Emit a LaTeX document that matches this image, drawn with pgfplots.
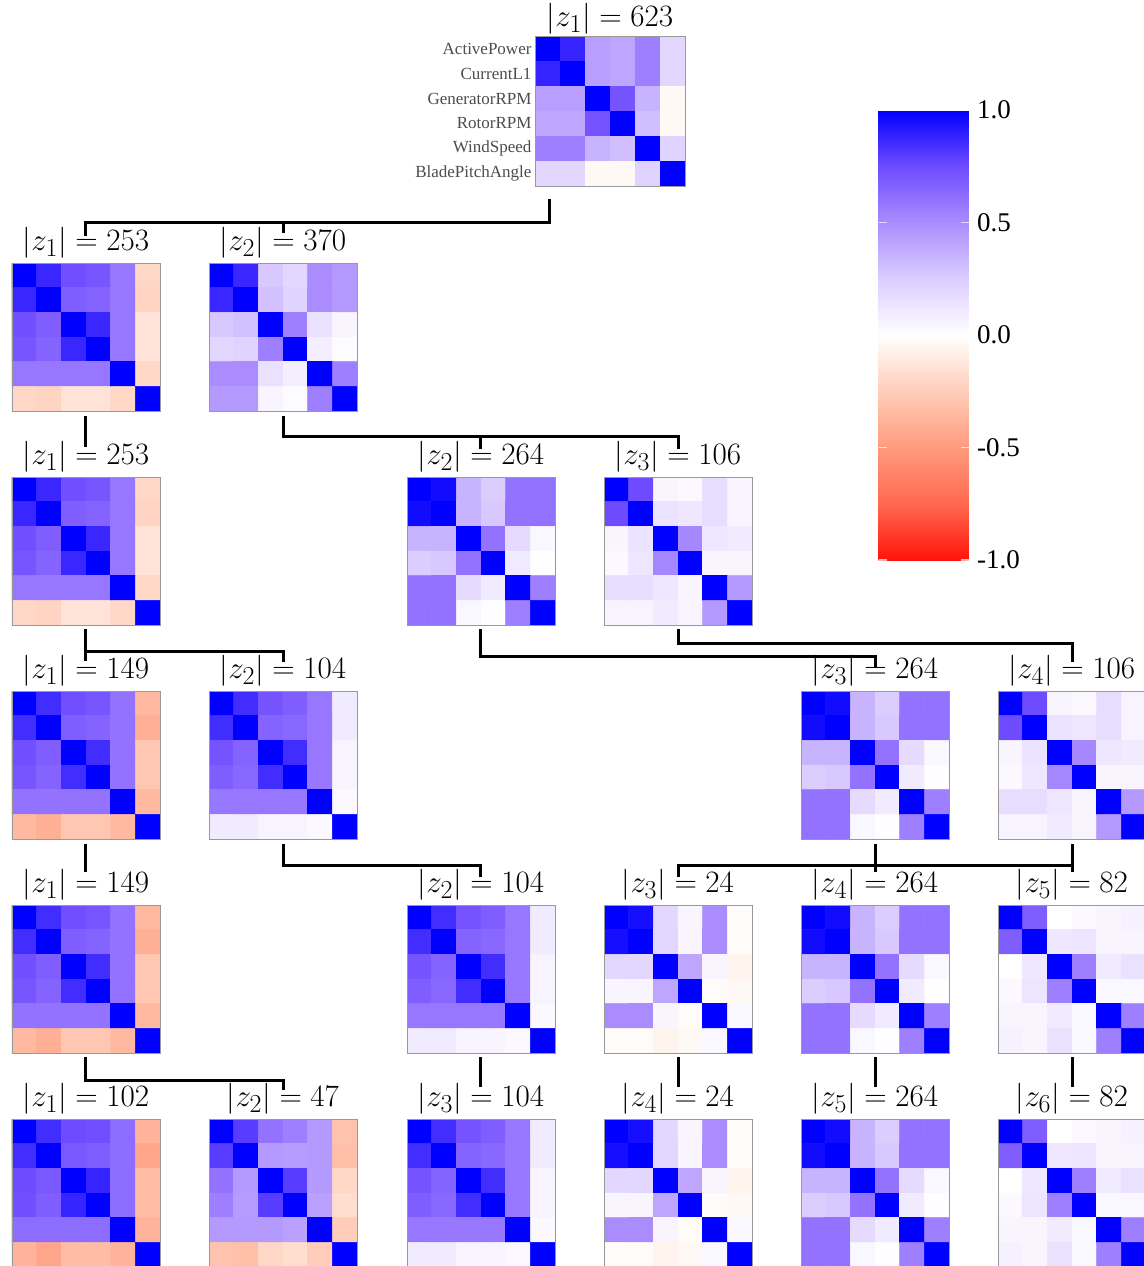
\documentclass[border=0pt]{standalone}
\usepackage{graphicx}
\usepackage{pgfplots}
\pgfplotsset{compat=1.18}
\usepackage{pgfplotstable}
\usepackage{fontspec}
\setmainfont{Liberation Serif}

% ---------- data: x = column, y = row, c = correlation ----------
\pgfplotstableread[row sep=\\]{
x y c\\
0 0 1\\ 1 0 .88\\ 2 0 .43\\ 3 0 .40\\ 4 0 .55\\ 5 0 .20\\
0 1 .88\\ 1 1 1\\ 2 1 .43\\ 3 1 .40\\ 4 1 .55\\ 5 1 .20\\
0 2 .43\\ 1 2 .43\\ 2 2 1\\ 3 2 .72\\ 4 2 .35\\ 5 2 -.03\\
0 3 .40\\ 1 3 .40\\ 2 3 .72\\ 3 3 1\\ 4 3 .31\\ 5 3 -.03\\
0 4 .55\\ 1 4 .55\\ 2 4 .35\\ 3 4 .31\\ 4 4 1\\ 5 4 .22\\
0 5 .20\\ 1 5 .20\\ 2 5 -.03\\ 3 5 -.03\\ 4 5 .22\\ 5 5 1\\
}\matT
\pgfplotstableread[row sep=\\]{
x y c\\
0 0 1\\ 1 0 .87\\ 2 0 .74\\ 3 0 .71\\ 4 0 .58\\ 5 0 -.20\\
0 1 .87\\ 1 1 1\\ 2 1 .68\\ 3 1 .66\\ 4 1 .58\\ 5 1 -.22\\
0 2 .74\\ 1 2 .68\\ 2 2 1\\ 3 2 .87\\ 4 2 .58\\ 5 2 -.14\\
0 3 .71\\ 1 3 .66\\ 2 3 .87\\ 3 3 1\\ 4 3 .58\\ 5 3 -.14\\
0 4 .58\\ 1 4 .58\\ 2 4 .58\\ 3 4 .58\\ 4 4 1\\ 5 4 -.20\\
0 5 -.20\\ 1 5 -.22\\ 2 5 -.14\\ 3 5 -.14\\ 4 5 -.20\\ 5 5 1\\
}\matA
\pgfplotstableread[row sep=\\]{
x y c\\
0 0 1\\ 1 0 .87\\ 2 0 .27\\ 3 0 .20\\ 4 0 .50\\ 5 0 .45\\
0 1 .87\\ 1 1 1\\ 2 1 .30\\ 3 1 .22\\ 4 1 .50\\ 5 1 .45\\
0 2 .27\\ 1 2 .30\\ 2 2 1\\ 3 2 .55\\ 4 2 .15\\ 5 2 .05\\
0 3 .20\\ 1 3 .22\\ 2 3 .55\\ 3 3 1\\ 4 3 .08\\ 5 3 .02\\
0 4 .50\\ 1 4 .50\\ 2 4 .15\\ 3 4 .08\\ 4 4 1\\ 5 4 .55\\
0 5 .45\\ 1 5 .45\\ 2 5 .05\\ 3 5 .02\\ 4 5 .55\\ 5 5 1\\
}\matB
\pgfplotstableread[row sep=\\]{
x y c\\
0 0 1\\ 1 0 .96\\ 2 0 .35\\ 3 0 .25\\ 4 0 .60\\ 5 0 .60\\
0 1 .96\\ 1 1 1\\ 2 1 .35\\ 3 1 .27\\ 4 1 .60\\ 5 1 .60\\
0 2 .35\\ 1 2 .35\\ 2 2 1\\ 3 2 .60\\ 4 2 .18\\ 5 2 .04\\
0 3 .25\\ 1 3 .27\\ 2 3 .60\\ 3 3 1\\ 4 3 .10\\ 5 3 .01\\
0 4 .60\\ 1 4 .60\\ 2 4 .18\\ 3 4 .10\\ 4 4 1\\ 5 4 .55\\
0 5 .60\\ 1 5 .60\\ 2 5 .04\\ 3 5 .01\\ 4 5 .55\\ 5 5 1\\
}\matC
\pgfplotstableread[row sep=\\]{
x y c\\
0 0 1\\ 1 0 .75\\ 2 0 .05\\ 3 0 .03\\ 4 0 .17\\ 5 0 .06\\
0 1 .75\\ 1 1 1\\ 2 1 .14\\ 3 1 .12\\ 4 1 .17\\ 5 1 .06\\
0 2 .05\\ 1 2 .14\\ 2 2 1\\ 3 2 .52\\ 4 2 .12\\ 5 2 .10\\
0 3 .03\\ 1 3 .12\\ 2 3 .52\\ 3 3 1\\ 4 3 .05\\ 5 3 .05\\
0 4 .17\\ 1 4 .17\\ 2 4 .12\\ 3 4 .05\\ 4 4 1\\ 5 4 .45\\
0 5 .06\\ 1 5 .06\\ 2 5 .10\\ 3 5 .05\\ 4 5 .45\\ 5 5 1\\
}\matD
\pgfplotstableread[row sep=\\]{
x y c\\
0 0 1\\ 1 0 .85\\ 2 0 .74\\ 3 0 .71\\ 4 0 .60\\ 5 0 -.35\\
0 1 .85\\ 1 1 1\\ 2 1 .68\\ 3 1 .66\\ 4 1 .60\\ 5 1 -.40\\
0 2 .74\\ 1 2 .68\\ 2 2 1\\ 3 2 .85\\ 4 2 .60\\ 5 2 -.28\\
0 3 .71\\ 1 3 .66\\ 2 3 .85\\ 3 3 1\\ 4 3 .60\\ 5 3 -.28\\
0 4 .60\\ 1 4 .60\\ 2 4 .60\\ 3 4 .60\\ 4 4 1\\ 5 4 -.35\\
0 5 -.35\\ 1 5 -.40\\ 2 5 -.28\\ 3 5 -.28\\ 4 5 -.35\\ 5 5 1\\
}\matE
\pgfplotstableread[row sep=\\]{
x y c\\
0 0 1\\ 1 0 .85\\ 2 0 .72\\ 3 0 .68\\ 4 0 .58\\ 5 0 .10\\
0 1 .85\\ 1 1 1\\ 2 1 .66\\ 3 1 .64\\ 4 1 .58\\ 5 1 .10\\
0 2 .72\\ 1 2 .66\\ 2 2 1\\ 3 2 .85\\ 4 2 .58\\ 5 2 .06\\
0 3 .68\\ 1 3 .64\\ 2 3 .85\\ 3 3 1\\ 4 3 .58\\ 5 3 .06\\
0 4 .58\\ 1 4 .58\\ 2 4 .58\\ 3 4 .58\\ 4 4 1\\ 5 4 .03\\
0 5 .10\\ 1 5 .10\\ 2 5 .06\\ 3 5 .06\\ 4 5 .03\\ 5 5 1\\
}\matF
\pgfplotstableread[row sep=\\]{
x y c\\
0 0 1\\ 1 0 .95\\ 2 0 .20\\ 3 0 .05\\ 4 0 .50\\ 5 0 -.02\\
0 1 .95\\ 1 1 1\\ 2 1 .20\\ 3 1 .05\\ 4 1 .50\\ 5 1 -.02\\
0 2 .20\\ 1 2 .20\\ 2 2 1\\ 3 2 .40\\ 4 2 .05\\ 5 2 -.06\\
0 3 .05\\ 1 3 .05\\ 2 3 .40\\ 3 3 1\\ 4 3 -.02\\ 5 3 -.03\\
0 4 .50\\ 1 4 .50\\ 2 4 .05\\ 3 4 -.02\\ 4 4 1\\ 5 4 .04\\
0 5 -.02\\ 1 5 -.02\\ 2 5 -.06\\ 3 5 -.03\\ 4 5 .04\\ 5 5 1\\
}\matG
\pgfplotstableread[row sep=\\]{
x y c\\
0 0 1\\ 1 0 .68\\ 2 0 .00\\ 3 0 .03\\ 4 0 .05\\ 5 0 .07\\
0 1 .68\\ 1 1 1\\ 2 1 .12\\ 3 1 .13\\ 4 1 .05\\ 5 1 .05\\
0 2 .00\\ 1 2 .12\\ 2 2 1\\ 3 2 .55\\ 4 2 .10\\ 5 2 .15\\
0 3 .03\\ 1 3 .13\\ 2 3 .55\\ 3 3 1\\ 4 3 .04\\ 5 3 .04\\
0 4 .05\\ 1 4 .05\\ 2 4 .10\\ 3 4 .04\\ 4 4 1\\ 5 4 .55\\
0 5 .07\\ 1 5 .05\\ 2 5 .15\\ 3 5 .04\\ 4 5 .55\\ 5 5 1\\
}\matH
\pgfplotstableread[row sep=\\]{
x y c\\
0 0 1\\ 1 0 .85\\ 2 0 .75\\ 3 0 .74\\ 4 0 .62\\ 5 0 -.38\\
0 1 .85\\ 1 1 1\\ 2 1 .70\\ 3 1 .68\\ 4 1 .62\\ 5 1 -.45\\
0 2 .75\\ 1 2 .70\\ 2 2 1\\ 3 2 .88\\ 4 2 .62\\ 5 2 -.33\\
0 3 .74\\ 1 3 .68\\ 2 3 .88\\ 3 3 1\\ 4 3 .62\\ 5 3 -.33\\
0 4 .62\\ 1 4 .62\\ 2 4 .62\\ 3 4 .62\\ 4 4 1\\ 5 4 -.38\\
0 5 -.38\\ 1 5 -.45\\ 2 5 -.33\\ 3 5 -.33\\ 4 5 -.38\\ 5 5 1\\
}\matI
\pgfplotstableread[row sep=\\]{
x y c\\
0 0 1\\ 1 0 .80\\ 2 0 .60\\ 3 0 .55\\ 4 0 .45\\ 5 0 -.30\\
0 1 .80\\ 1 1 1\\ 2 1 .45\\ 3 1 .44\\ 4 1 .45\\ 5 1 -.32\\
0 2 .60\\ 1 2 .45\\ 2 2 1\\ 3 2 .80\\ 4 2 .45\\ 5 2 -.20\\
0 3 .55\\ 1 3 .44\\ 2 3 .80\\ 3 3 1\\ 4 3 .42\\ 5 3 -.17\\
0 4 .45\\ 1 4 .45\\ 2 4 .45\\ 3 4 .42\\ 4 4 1\\ 5 4 -.25\\
0 5 -.30\\ 1 5 -.32\\ 2 5 -.20\\ 3 5 -.17\\ 4 5 -.25\\ 5 5 1\\
}\matJ

\newcommand{\ztitle}[2]{\scalebox{1.25}{\fontsize{24.88}{30}\selectfont$|z_{#1}| = #2$}}
\pgfplotsset{
  colormap={rwb}{rgb255=(255,20,10) rgb255=(255,105,80) rgb255=(255,155,125)
    rgb255=(255,205,185) rgb255=(255,255,255) rgb255=(220,205,255)
    rgb255=(170,140,255) rgb255=(110,75,255) rgb255=(0,0,255)},
  cmatrix/.style={scale only axis, width=148pt, height=148pt, anchor=north west,
    xmin=-0.5, xmax=5.5, ymin=-0.5, ymax=5.5, y dir=reverse,
    xtick=\empty, ytick=\empty, axis on top,
    axis line style={draw=black!40, line width=0.8pt},
    colormap name=rwb, point meta min=-1, point meta max=1,
    title style={at={(0.5,1)}, anchor=base, yshift=7pt, inner sep=0pt}},
}
\newcommand{\cmat}[5]{%
\begin{axis}[cmatrix, at={(#1pt,-#2pt)}, title={\ztitle{#3}{#4}}]
\addplot[matrix plot, mesh/cols=6, point meta=explicit] table[x=x, y=y, meta=c] {#5};
\end{axis}}

\begin{document}
\begin{tikzpicture}
\path[use as bounding box] (0pt,0pt) rectangle (1143pt,-1266pt);

% top matrix with labels
\begin{axis}[cmatrix, width=150pt, height=150pt, at={(535pt,-36pt)},
  title={\ztitle{1}{623}}, title style={yshift=-3pt},
  ytick={0,...,5},
  yticklabels={ActivePower,CurrentL1,GeneratorRPM,RotorRPM,WindSpeed,BladePitchAngle},
  major tick length=0pt,
  yticklabel style={font=\fontsize{17}{20}\selectfont, text=black!70}]
\addplot[matrix plot, mesh/cols=6, point meta=explicit] table[x=x, y=y, meta=c] {\matT};
\end{axis}

% row 1
\cmat{12}{263}{1}{253}{\matA}
\cmat{209}{263}{2}{370}{\matB}
% row 2
\cmat{12}{477}{1}{253}{\matA}
\cmat{407}{477}{2}{264}{\matC}
\cmat{604}{477}{3}{106}{\matD}
% row 3
\cmat{12}{691}{1}{149}{\matE}
\cmat{209}{691}{2}{104}{\matF}
\cmat{801}{691}{3}{264}{\matC}
\cmat{998}{691}{4}{106}{\matD}
% row 4
\cmat{12}{905}{1}{149}{\matE}
\cmat{407}{905}{2}{104}{\matF}
\cmat{604}{905}{3}{24}{\matG}
\cmat{801}{905}{4}{264}{\matC}
\cmat{998}{905}{5}{82}{\matH}
% row 5
\cmat{12}{1119}{1}{102}{\matI}
\cmat{209}{1119}{2}{47}{\matJ}
\cmat{407}{1119}{3}{104}{\matF}
\cmat{604}{1119}{4}{24}{\matG}
\cmat{801}{1119}{5}{264}{\matC}
\cmat{998}{1119}{6}{82}{\matH}

% colour bar
\begin{axis}[hide axis, scale only axis, width=10pt, height=450pt,
  at={(860pt,-110pt)}, anchor=north west, xmin=0, xmax=1, ymin=0, ymax=1,
  colormap name=rwb, point meta min=-1, point meta max=1,
  colorbar, colorbar/width=90pt,
  colorbar style={at={(parent axis.north east)}, anchor=north west, xshift=0pt,
    width=90pt, height=450pt,
    ytick={-1,-0.5,0,0.5,1}, yticklabels={-1.0,-0.5,0.0,0.5,1.0},
    yticklabel pos=right, ytick pos=both, tick align=inside,
    major tick length=8pt,
    major tick style={draw=white, line width=1.2pt, opacity=0.7},
    axis line style={draw=none},
    yticklabel style={font=\fontsize{27}{30}\selectfont, text=black, xshift=5pt}}]
\addplot[draw=none] coordinates {(0.5,0.5)};
\end{axis}

% tree connectors
\begin{scope}[x=1pt, y=-1pt, line width=3pt, line cap=rect]
\draw (549,200) -- (549,222);
\draw (85,234) -- (85,222) -- (549,222);
\draw (283,222) -- (283,231);
\draw (85,417) -- (85,445);
\draw (283,417) -- (283,436) -- (678,436) -- (678,447);
\draw (480,436) -- (480,447);
\draw (85,630) -- (85,659);
\draw (85,651) -- (283,651) -- (283,660);
\draw (480,630) -- (480,656) -- (875,656) -- (875,665);
\draw (678,630) -- (678,643) -- (1072,643) -- (1072,660);
\draw (85,845) -- (85,870);
\draw (283,845) -- (283,865) -- (480,865) -- (480,875);
\draw (875,845) -- (875,870);
\draw (1072,845) -- (1072,870);
\draw (678,875) -- (678,865) -- (1072,865);
\draw (85,1058) -- (85,1080) -- (283,1080) -- (283,1088);
\draw (480,1058) -- (480,1085);
\draw (678,1058) -- (678,1085);
\draw (875,1058) -- (875,1085);
\draw (1072,1058) -- (1072,1085);
\end{scope}
\end{tikzpicture}
\end{document}
